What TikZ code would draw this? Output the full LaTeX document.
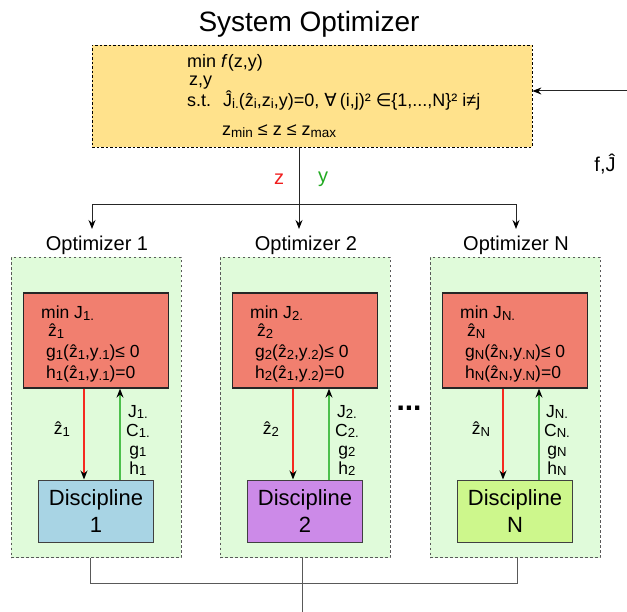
\documentclass[tikz,border=0pt]{standalone}
\usepackage{fontspec}
\usepackage{graphicx}
\setmainfont{Liberation Sans}
\newfontfamily\symf{DejaVu Sans}
\usetikzlibrary{arrows.meta}
\definecolor{ybg}{HTML}{FFE28C}
\definecolor{gbg}{HTML}{E0FBDA}
\definecolor{rbg}{HTML}{F17F6F}
\definecolor{dcol1}{HTML}{A8D4E4}
\definecolor{dcol2}{HTML}{CC8AE8}
\definecolor{dcol3}{HTML}{CDF78C}
\definecolor{lred}{HTML}{F52A20}
\definecolor{lgreen}{HTML}{4CC04C}
\definecolor{zred}{HTML}{F01E1E}
\definecolor{ygreen}{HTML}{22AA22}
\newcommand\zhat{\ooalign{z\cr\hidewidth\char"02C6\hidewidth\cr}}
\newcommand\sbs[1]{\raisebox{-0.1em}{\scalebox{0.75}{#1}}}
\begin{document}
\begin{tikzpicture}[x=1pt,y=-1pt,
  f17/.style={font=\fontsize{17.5}{19}\selectfont, inner sep=0pt},
  f18/.style={font=\fontsize{18}{20}\selectfont, inner sep=0pt},
  sysbox/.style={draw=black, fill=ybg, line width=0.8pt, dash pattern=on 2.5pt off 2pt, minimum width=440pt, minimum height=102pt, inner sep=0pt},
  optbox/.style={draw=black!65, fill=gbg, line width=1pt, dash pattern=on 2.5pt off 2.5pt, minimum width=170pt, minimum height=300pt, inner sep=0pt},
  redbox/.style={draw=black!85, fill=rbg, line width=1.3pt, minimum width=145pt, minimum height=95pt, inner sep=0pt},
  discbox/.style={draw=black!75, line width=1pt, minimum width=115pt, minimum height=62pt, inner sep=0pt, align=center, font=\fontsize{22}{27}\selectfont},
  tip/.tip={Stealth[length=9pt,width=7pt,inset=3pt,black]},
  arr/.style={-tip, line width=1pt, draw=black!85},
  redarr/.style={-tip, line width=1.3pt, draw=lred},
  greenarr/.style={-tip, line width=1.3pt, draw=lgreen},
  gline/.style={line width=1pt, draw=black!65}
]
\useasboundingbox (0,0) rectangle (627,612);

% system optimizer
\node[anchor=base, font=\fontsize{28}{32}\selectfont, inner sep=0pt] (title) at (309,32) {System Optimizer};
\node[sysbox] (sys) at (312,96) {};
\node[f18, anchor=base west] (smin) at (187,68) {min};
\node[f18, anchor=base west] (sf) at (221,68) {\textit{f}(z,y)};
\node[f18, anchor=base west] (szy) at (189,86) {z,y};
\node[f18, anchor=base west] (sst) at (187,107) {s.t.};
\node[f18, anchor=base west] (scon) at (223,107) {Ĵ\sbs{i.}(\zhat\sbs{i},z\sbs{i},y)=0,\ {\symf ∀}\,(i,j)²\ {\symf ∈}\{1,...,N\}² i≠j};
\node[f18, anchor=base west] (sbnd) at (222,136) {z\sbs{min} ≤ z ≤ z\sbs{max}};

% feedback from the right
\coordinate (fin) at (627,91);
\draw[arr] (fin) -- (sys.east |- fin);
\node[anchor=base, font=\fontsize{20}{22}\selectfont, inner sep=0pt] (fJ) at (605,172) {f,Ĵ};

% distribution bus
\coordinate (bus) at (299,205);
\coordinate (a1) at (92,229);
\coordinate (a2) at (299,229);
\coordinate (a3) at (516,229);
\draw[arr] (sys.south -| a2) -- (a2);
\draw[arr] (bus) -| (a1);
\draw[arr] (bus) -| (a3);
\node[anchor=base, font=\fontsize{20}{22}\selectfont, text=zred, inner sep=0pt] (zl) at (279,185) {z};
\node[anchor=base, font=\fontsize{20}{22}\selectfont, text=ygreen, inner sep=0pt] (yl) at (323,183) {y};

% optimizers
\foreach \cx/\i/\hz/\n in {96/1/1/1, 305/2/1/2, 515/N/N/3}{
  \node[optbox] (opt\n) at (\cx,407.5) {};
  \node[anchor=base, font=\fontsize{20}{22}\selectfont, inner sep=0pt] (olab\n) at (\cx+1,251) {Optimizer \i};
  \node[redbox] (red\n) at (\cx,340.5) {};
  \node[f17, anchor=base west] (rmin\n) at (\cx-55,319) {min J\sbs{\i.}};
  \node[f17, anchor=base west] (rz\n) at (\cx-48,337) {\zhat\sbs{\i}};
  \node[f17, anchor=base west] (rg\n) at (\cx-50,358) {g\sbs{\i}(\zhat\sbs{\i},y\sbs{.\i})≤ 0};
  \node[f17, anchor=base west] (rh\n) at (\cx-50,379) {h\sbs{\i}(\zhat\sbs{\hz},y\sbs{.\i})=0};
  \node[discbox, fill=dcol\n] (disc\n) at (\cx,511) {Discipline\\\i};
  \draw[redarr] (red\n.south -| \cx-12,0) -- (disc\n.north -| \cx-12,0);
  \draw[greenarr] (disc\n.north -| \cx+24,0) -- (red\n.south -| \cx+24,0);
  \node[f17, anchor=base] (lz\n) at (\cx-34,435) {\zhat\sbs{\i}};
  \node[f17, anchor=north, align=center] (lr\n) at (\cx+42,405) {J\sbs{\i.}\\C\sbs{\i.}\\g\sbs{\i}\\h\sbs{\i}};
}
\node[anchor=base, font=\bfseries\fontsize{30}{32}\selectfont, inner sep=0pt] (dots) at (409,411) {...};

% collection at the bottom
\coordinate (b1) at (90,583);
\coordinate (b2) at (302,612);
\coordinate (b3) at (517,583);
\draw[gline] (opt1.south -| b1) -- (b1) -- (b3) -- (opt3.south -| b3);
\draw[gline] (opt2.south -| b2) -- (b2);
\end{tikzpicture}
\end{document}
